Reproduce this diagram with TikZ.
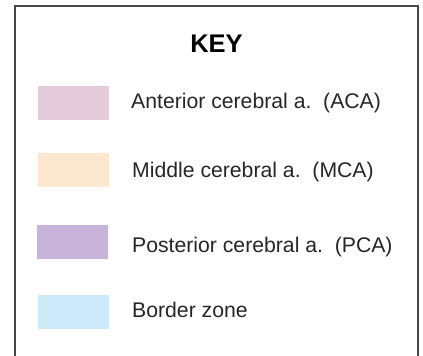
\documentclass[tikz,border=0pt]{standalone}
\usepackage{fontspec}
\setmainfont{Liberation Sans}
\definecolor{acac}{RGB}{229,204,219}
\definecolor{mcac}{RGB}{252,232,207}
\definecolor{pcac}{RGB}{200,180,216}
\definecolor{bzc}{RGB}{204,234,249}
\definecolor{framec}{RGB}{70,70,70}
\begin{document}
\begin{tikzpicture}[x=1pt,y=-1pt,
  swatch/.style={minimum width=71pt,minimum height=34pt,inner sep=0pt,draw=none,anchor=north west},
  label/.style={anchor=base west,inner sep=0pt,font=\fontsize{21.2}{25}\selectfont,text=black!85},
  title/.style={anchor=base,inner sep=0pt,font=\fontsize{25.5}{30}\selectfont\bfseries}]
\useasboundingbox (0,0) rectangle (423,356);
\draw[framec,line width=1.2pt] (15,356) -- (15,6) -- (418,6) -- (418,356);
\node[title] (key) at (216.5,52) {KEY};
\node[swatch,fill=acac] (s1) at (38,86) {};
\node[swatch,fill=mcac] (s2) at (38,153) {};
\node[swatch,fill=pcac] (s3) at (37,225) {};
\node[swatch,fill=bzc] (s4) at (38,295) {};
\node[label] (t1) at (131,108) {Anterior cerebral a.\ \ (ACA)};
\node[label] (t2) at (132,177) {Middle cerebral a.\ \ (MCA)};
\node[label] (t3) at (132,252) {Posterior cerebral a.\ \ (PCA)};
\node[label] (t4) at (132,317) {Border zone};
\end{tikzpicture}
\end{document}
